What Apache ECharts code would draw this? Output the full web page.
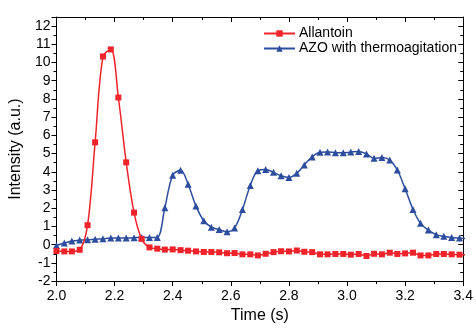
<!DOCTYPE html>
<html>
<head>
<meta charset="utf-8">
<script src="https://cdn.jsdelivr.net/npm/echarts@6/dist/echarts.min.js"></script>
<style>html,body{margin:0;padding:0;background:#fff}#c{width:476px;height:329px}</style>
</head>
<body>
<div id="c"></div>
<script>
var times = [2.000, 2.027, 2.053, 2.080, 2.107, 2.133, 2.160, 2.187, 2.213, 2.240,
  2.267, 2.293, 2.320, 2.347, 2.373, 2.400, 2.427, 2.453, 2.480, 2.507,
  2.533, 2.560, 2.587, 2.613, 2.640, 2.667, 2.693, 2.720, 2.747, 2.773,
  2.800, 2.827, 2.853, 2.880, 2.907, 2.933, 2.960, 2.987, 3.013, 3.040,
  3.067, 3.093, 3.120, 3.147, 3.173, 3.200, 3.227, 3.253, 3.280, 3.307,
  3.333, 3.360, 3.387, 3.413];
var allantoin = [-0.35, -0.37, -0.37, -0.28, 1.07, 5.62, 10.33, 10.72, 8.08, 4.52,
  1.76, 0.32, -0.15, -0.22, -0.27, -0.26, -0.30, -0.33, -0.37, -0.40,
  -0.40, -0.42, -0.47, -0.46, -0.53, -0.53, -0.59, -0.50, -0.41, -0.36,
  -0.37, -0.32, -0.39, -0.41, -0.53, -0.53, -0.51, -0.51, -0.55, -0.51,
  -0.62, -0.50, -0.53, -0.44, -0.51, -0.48, -0.44, -0.59, -0.59, -0.51,
  -0.51, -0.53, -0.55, -0.55];
var azo = [-0.05, 0.09, 0.20, 0.25, 0.27, 0.30, 0.33, 0.36, 0.36, 0.37,
  0.38, 0.40, 0.39, 0.40, 2.03, 3.81, 4.08, 3.32, 2.13, 1.31,
  0.96, 0.83, 0.71, 0.92, 1.93, 3.25, 4.06, 4.13, 3.97, 3.78,
  3.69, 3.92, 4.38, 4.82, 5.07, 5.09, 5.05, 5.04, 5.09, 5.12,
  4.98, 4.74, 4.79, 4.65, 4.10, 3.07, 1.93, 1.17, 0.80, 0.55,
  0.46, 0.39, 0.36, 0.34];
var seriesNames = ['Allantoin', 'AZO with thermoagitation'];
var xTicks = [2.0, 2.2, 2.4, 2.6, 2.8, 3.0, 3.2, 3.4];
var yTicks = [-2, -1, 0, 1, 2, 3, 4, 5, 6, 7, 8, 9, 10, 11, 12];

function pairs(xs, ys) { return xs.map(function (x, i) { return [x, ys[i]]; }); }

var RED = '#f0232a', BLUE = '#2c4c9e';
var FONT = '"Liberation Sans", Arial, sans-serif';
var chart = echarts.init(document.getElementById('c'), null, { renderer: 'canvas' });
var axisBase = {
  axisLine: { show: true, onZero: false, lineStyle: { color: '#000', width: 1 } },
  splitLine: { show: false }
};
chart.setOption({
  animation: false,
  backgroundColor: '#fff',
  grid: { left: 53, right: 7, top: 17, bottom: 39, containLabel: false },
  legend: {
    orient: 'vertical', left: 263, top: 26, itemWidth: 31, itemHeight: 8, itemGap: 0,
    padding: 0,
    textStyle: { fontFamily: FONT, fontSize: 14, color: '#000', lineHeight: 15, padding: [0, 0, 0, -1] },
    data: seriesNames
  },
  xAxis: [
    Object.assign({}, axisBase, {
      type: 'value', min: 2.0, max: 3.4, interval: 0.2, position: 'bottom',
      name: 'Time (s)', nameLocation: 'middle', nameGap: 24,
      nameTextStyle: { fontFamily: FONT, fontSize: 16, color: '#000' },
      axisTick: { show: true, inside: false, length: 5, lineStyle: { color: '#000' } },
      minorTick: { show: true, splitNumber: 2, length: 3, lineStyle: { color: '#000' } },
      axisLabel: { fontFamily: FONT, fontSize: 14, color: '#000', margin: 8,
        formatter: function (v) { return xTicks.indexOf(Math.round(v * 10) / 10) >= 0 ? v.toFixed(1) : ''; } }
    }),
    Object.assign({}, axisBase, {
      type: 'value', min: 2.0, max: 3.4, interval: 0.2, position: 'top',
      axisTick: { show: true, inside: true, length: 5, lineStyle: { color: '#000' } },
      minorTick: { show: true, splitNumber: 2, length: 3, lineStyle: { color: '#000' } },
      axisLabel: { show: false }
    })
  ],
  yAxis: [
    Object.assign({}, axisBase, {
      type: 'value', min: -2, max: 12.5, interval: 1, position: 'left',
      name: 'Intensity (a.u.)', nameLocation: 'middle', nameGap: 27,
      nameTextStyle: { fontFamily: FONT, fontSize: 16, color: '#000' },
      axisTick: { show: true, inside: false, length: 5, lineStyle: { color: '#000' } },
      minorTick: { show: true, splitNumber: 2, length: 3, lineStyle: { color: '#000' } },
      axisLabel: { fontFamily: FONT, fontSize: 14, color: '#000', margin: 6, showMaxLabel: false,
        formatter: function (v) { return yTicks.indexOf(v) >= 0 ? String(v) : ''; } }
    }),
    Object.assign({}, axisBase, {
      type: 'value', min: -2, max: 12.5, interval: 1, position: 'right',
      axisTick: { show: true, inside: true, length: 5, lineStyle: { color: '#000' } },
      minorTick: { show: true, splitNumber: 2, length: 3, lineStyle: { color: '#000' } },
      axisLabel: { show: false }
    })
  ],
  series: [
    {
      name: seriesNames[0], type: 'line', xAxisIndex: 0, yAxisIndex: 0,
      data: pairs(times, allantoin), smooth: 0.35, clip: true,
      symbol: 'rect', symbolSize: 6, showAllSymbol: true,
      lineStyle: { color: RED, width: 1.5 }, itemStyle: { color: RED, borderWidth: 0 }, z: 3
    },
    {
      name: seriesNames[1], type: 'line', xAxisIndex: 0, yAxisIndex: 0,
      data: pairs(times, azo), smooth: 0.35, clip: true,
      symbol: 'triangle', symbolSize: 7, showAllSymbol: true,
      lineStyle: { color: BLUE, width: 1.5 }, itemStyle: { color: BLUE, borderWidth: 0 }, z: 2
    }
  ]
});
</script>
</body>
</html>
